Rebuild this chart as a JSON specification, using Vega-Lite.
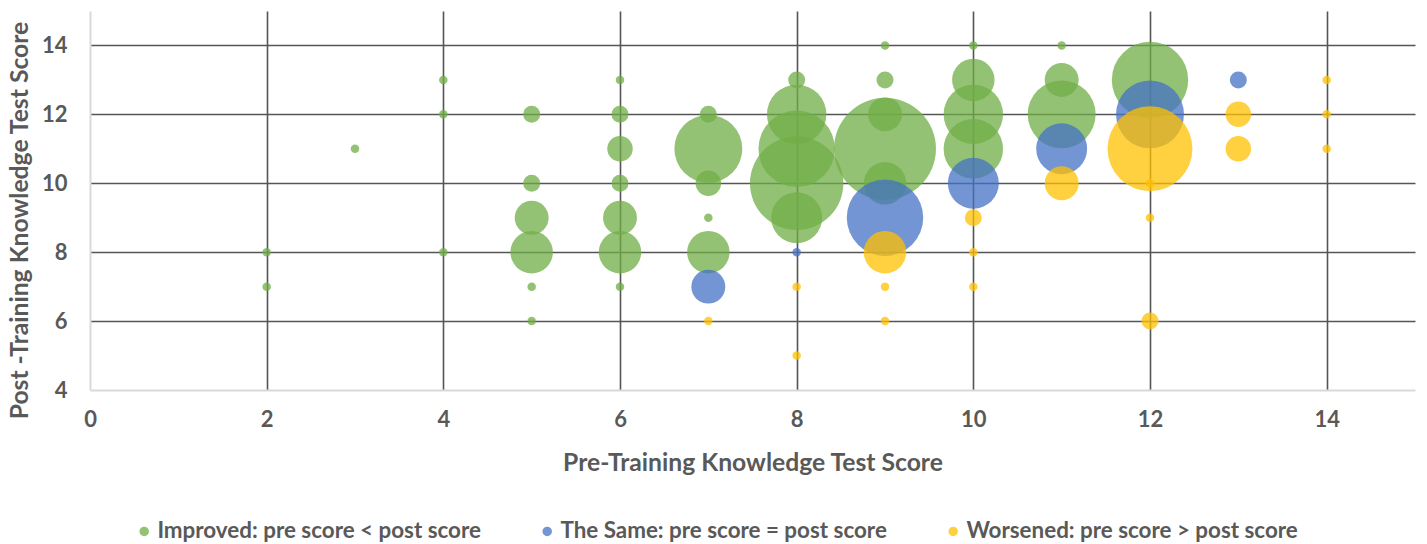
{
  "$schema": "https://vega.github.io/schema/vega-lite/v6.json",
  "width": 1325,
  "height": 379,
  "autosize": "none",
  "padding": {"left": 90, "top": 11, "right": 12, "bottom": 154},
  "config": {
    "view": {"stroke": null},
    "font": "Lato",
    "axis": {
      "labelFont": "Lato", "labelFontWeight": "bold", "labelColor": "#595959", "labelFontSize": 22, "labelFlush": false,
      "titleFont": "Lato", "titleFontWeight": "bold", "titleColor": "#595959", "titleFontSize": 24.7,
      "domainColor": "#d9d9d9", "domainWidth": 2, "ticks": false, "gridWidth": 1.6
    },
    "legend": {
      "labelFont": "Lato", "labelFontWeight": "bold", "labelColor": "#595959", "labelFontSize": 22.4, "labelLimit": 0
    }
  },
  "data": {
    "values": [
      {"pre": 2, "post": 8, "n": 1, "group": "Improved: pre score < post score"},
      {"pre": 2, "post": 7, "n": 1, "group": "Improved: pre score < post score"},
      {"pre": 3, "post": 11, "n": 1, "group": "Improved: pre score < post score"},
      {"pre": 4, "post": 13, "n": 1, "group": "Improved: pre score < post score"},
      {"pre": 4, "post": 12, "n": 1, "group": "Improved: pre score < post score"},
      {"pre": 4, "post": 8, "n": 1, "group": "Improved: pre score < post score"},
      {"pre": 5, "post": 12, "n": 2, "group": "Improved: pre score < post score"},
      {"pre": 5, "post": 10, "n": 2, "group": "Improved: pre score < post score"},
      {"pre": 5, "post": 9, "n": 4, "group": "Improved: pre score < post score"},
      {"pre": 5, "post": 8, "n": 5, "group": "Improved: pre score < post score"},
      {"pre": 5, "post": 7, "n": 1, "group": "Improved: pre score < post score"},
      {"pre": 5, "post": 6, "n": 1, "group": "Improved: pre score < post score"},
      {"pre": 6, "post": 13, "n": 1, "group": "Improved: pre score < post score"},
      {"pre": 6, "post": 12, "n": 2, "group": "Improved: pre score < post score"},
      {"pre": 6, "post": 11, "n": 3, "group": "Improved: pre score < post score"},
      {"pre": 6, "post": 10, "n": 2, "group": "Improved: pre score < post score"},
      {"pre": 6, "post": 9, "n": 4, "group": "Improved: pre score < post score"},
      {"pre": 6, "post": 8, "n": 5, "group": "Improved: pre score < post score"},
      {"pre": 6, "post": 7, "n": 1, "group": "Improved: pre score < post score"},
      {"pre": 7, "post": 12, "n": 2, "group": "Improved: pre score < post score"},
      {"pre": 7, "post": 11, "n": 8, "group": "Improved: pre score < post score"},
      {"pre": 7, "post": 10, "n": 3, "group": "Improved: pre score < post score"},
      {"pre": 7, "post": 9, "n": 1, "group": "Improved: pre score < post score"},
      {"pre": 7, "post": 8, "n": 5, "group": "Improved: pre score < post score"},
      {"pre": 8, "post": 13, "n": 2, "group": "Improved: pre score < post score"},
      {"pre": 8, "post": 12, "n": 7, "group": "Improved: pre score < post score"},
      {"pre": 8, "post": 11, "n": 9, "group": "Improved: pre score < post score"},
      {"pre": 8, "post": 10, "n": 11, "group": "Improved: pre score < post score"},
      {"pre": 8, "post": 9, "n": 6, "group": "Improved: pre score < post score"},
      {"pre": 9, "post": 14, "n": 1, "group": "Improved: pre score < post score"},
      {"pre": 9, "post": 13, "n": 2, "group": "Improved: pre score < post score"},
      {"pre": 9, "post": 12, "n": 4, "group": "Improved: pre score < post score"},
      {"pre": 9, "post": 11, "n": 12, "group": "Improved: pre score < post score"},
      {"pre": 9, "post": 10, "n": 5, "group": "Improved: pre score < post score"},
      {"pre": 10, "post": 14, "n": 1, "group": "Improved: pre score < post score"},
      {"pre": 10, "post": 13, "n": 5, "group": "Improved: pre score < post score"},
      {"pre": 10, "post": 12, "n": 7, "group": "Improved: pre score < post score"},
      {"pre": 10, "post": 11, "n": 7, "group": "Improved: pre score < post score"},
      {"pre": 11, "post": 14, "n": 1, "group": "Improved: pre score < post score"},
      {"pre": 11, "post": 13, "n": 4, "group": "Improved: pre score < post score"},
      {"pre": 11, "post": 12, "n": 8, "group": "Improved: pre score < post score"},
      {"pre": 12, "post": 13, "n": 9, "group": "Improved: pre score < post score"},
      {"pre": 7, "post": 7, "n": 4, "group": "The Same: pre score = post score"},
      {"pre": 8, "post": 8, "n": 1, "group": "The Same: pre score = post score"},
      {"pre": 9, "post": 9, "n": 9, "group": "The Same: pre score = post score"},
      {"pre": 10, "post": 10, "n": 6, "group": "The Same: pre score = post score"},
      {"pre": 11, "post": 11, "n": 6, "group": "The Same: pre score = post score"},
      {"pre": 12, "post": 12, "n": 8, "group": "The Same: pre score = post score"},
      {"pre": 13, "post": 13, "n": 2, "group": "The Same: pre score = post score"},
      {"pre": 7, "post": 6, "n": 1, "group": "Worsened: pre score > post score"},
      {"pre": 8, "post": 7, "n": 1, "group": "Worsened: pre score > post score"},
      {"pre": 8, "post": 5, "n": 1, "group": "Worsened: pre score > post score"},
      {"pre": 9, "post": 8, "n": 5, "group": "Worsened: pre score > post score"},
      {"pre": 9, "post": 7, "n": 1, "group": "Worsened: pre score > post score"},
      {"pre": 9, "post": 6, "n": 1, "group": "Worsened: pre score > post score"},
      {"pre": 10, "post": 9, "n": 2, "group": "Worsened: pre score > post score"},
      {"pre": 10, "post": 8, "n": 1, "group": "Worsened: pre score > post score"},
      {"pre": 10, "post": 7, "n": 1, "group": "Worsened: pre score > post score"},
      {"pre": 11, "post": 10, "n": 4, "group": "Worsened: pre score > post score"},
      {"pre": 12, "post": 11, "n": 10, "group": "Worsened: pre score > post score"},
      {"pre": 12, "post": 10, "n": 1, "group": "Worsened: pre score > post score"},
      {"pre": 12, "post": 9, "n": 1, "group": "Worsened: pre score > post score"},
      {"pre": 12, "post": 6, "n": 2, "group": "Worsened: pre score > post score"},
      {"pre": 13, "post": 12, "n": 3, "group": "Worsened: pre score > post score"},
      {"pre": 13, "post": 11, "n": 3, "group": "Worsened: pre score > post score"},
      {"pre": 14, "post": 13, "n": 1, "group": "Worsened: pre score > post score"},
      {"pre": 14, "post": 12, "n": 1, "group": "Worsened: pre score > post score"},
      {"pre": 14, "post": 11, "n": 1, "group": "Worsened: pre score > post score"}
    ]
  },
  "mark": {"type": "circle", "opacity": 0.75, "strokeWidth": 0},
  "encoding": {
    "x": {
      "field": "pre", "type": "quantitative",
      "scale": {"domain": [0, 15], "nice": false, "zero": false},
      "axis": {
        "title": "Pre-Training Knowledge Test Score",
        "values": [0, 2, 4, 6, 8, 10, 12, 14],
        "labelPadding": 19, "titlePadding": 20,
        "gridColor": {"condition": {"test": "datum.value === 0", "value": "transparent"}, "value": "#555555"}
      }
    },
    "y": {
      "field": "post", "type": "quantitative",
      "scale": {"domain": [4, 15], "nice": false, "zero": false},
      "axis": {
        "title": "Post -Training Knowledge Test Score",
        "values": [4, 6, 8, 10, 12, 14],
        "labelPadding": 23, "titlePadding": 9, "titleY": 209,
        "gridColor": {"condition": {"test": "datum.value === 4", "value": "transparent"}, "value": "#555555"}
      }
    },
    "size": {
      "field": "n", "type": "quantitative",
      "scale": {"type": "pow", "exponent": 2, "domain": [0, 12], "range": [0, 10387]},
      "legend": null
    },
    "color": {
      "field": "group", "type": "nominal",
      "scale": {
        "domain": ["Improved: pre score < post score", "The Same: pre score = post score", "Worsened: pre score > post score"],
        "range": ["#70AD47", "#4472C4", "#FFC000"]
      },
      "legend": {
        "title": null, "orient": "none", "direction": "horizontal",
        "legendX": 43, "legendY": 509,
        "symbolType": "circle", "symbolSize": 90, "symbolOpacity": 0.75, "symbolStrokeWidth": 0,
        "labelOffset": 2, "columnPadding": 55
      }
    }
  }
}
